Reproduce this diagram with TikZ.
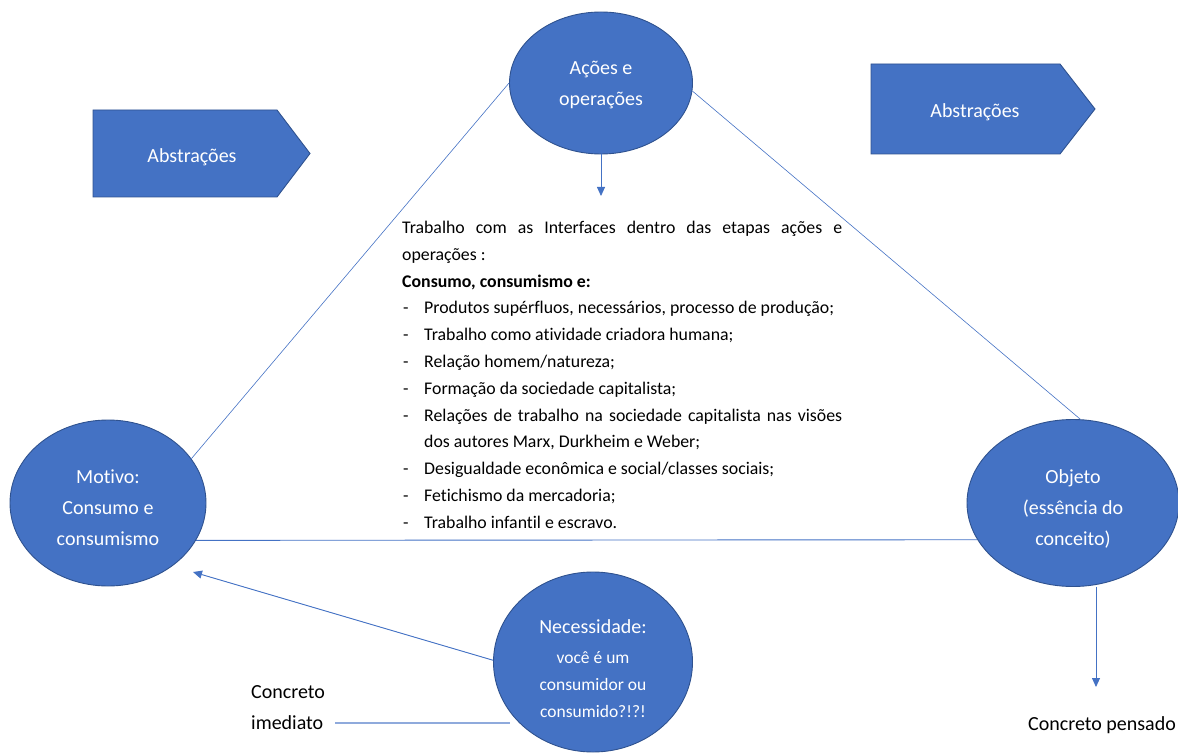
\documentclass[tikz,border=0pt]{standalone}
\usepackage{fontspec}
\setmainfont[Ligatures={NoCommon}]{Carlito}
\usetikzlibrary{shapes.geometric,arrows.meta,calc}
\definecolor{fillblue}{HTML}{4472C4}
\definecolor{edgeblue}{HTML}{2F528F}
\definecolor{lineblue}{HTML}{4472C4}
\definecolor{lightline}{HTML}{8FAADC}
\newcommand{\bitem}{\par\noindent\hangindent=22pt\hangafter=1\makebox[22pt][l]{\hspace{1pt}-}}
\begin{document}
\begin{tikzpicture}[x=1pt,y=-1pt,
  bubble/.style={ellipse, fill=fillblue, draw=edgeblue, line width=0.9pt, inner sep=0pt},
  bubbletext/.style={text=white, align=center, inner sep=0pt, font=\fontsize{20}{31}\selectfont},
  pentbox/.style={fill=fillblue, draw=edgeblue, line width=0.9pt},
  pentlabel/.style={text=white, inner sep=0pt, font=\fontsize{20}{24}\selectfont},
  thinline/.style={draw=lineblue, line width=0.6pt},
  conn/.style={draw=lineblue, line width=0.9pt},
  arrowline/.style={draw=lineblue, line width=0.9pt, -{Triangle[width=8pt,length=9pt]}, fill=lineblue},
  plainlabel/.style={inner sep=0pt, align=left, font=\fontsize{20}{31}\selectfont}]
\useasboundingbox (0,0) rectangle (1178,754);

% pentagon arrows "Abstrações"
\draw[pentbox] (93,110) -- (277,110) -- (310,153.5) -- (277,197) -- (93,197) -- cycle;
\node[pentlabel] (absL) at (192,157) {Abstrações};
\draw[pentbox] (871,64) -- (1060,64) -- (1095,109) -- (1060,154) -- (871,154) -- cycle;
\node[pentlabel] (absR) at (975,112) {Abstrações};

% ellipses
\node[bubble, minimum width=183pt, minimum height=142pt] (acoes) at (601,83) {};
\node[bubbletext] (acoesT) at (601,85) {Ações e\\operações};
\node[bubble, minimum width=196pt, minimum height=166pt] (motivo) at (108,503) {};
\node[bubbletext] (motivoT) at (108,508) {Motivo:\\Consumo e\\consumismo};
\node[bubble, minimum width=212pt, minimum height=167pt] (objeto) at (1073,503) {};
\node[bubbletext] (objetoT) at (1073,509) {Objeto\\(essência do\\conceito)};
\node[bubble, minimum width=199pt, minimum height=180pt] (necess) at (593,662) {};
\node[bubbletext, font=\fontsize{17.5}{27}\selectfont] (necessT) at (593,669)
  {{\fontsize{20}{27}\selectfont Necessidade:}\\[3pt]você é um\\consumidor ou\\consumido?!?!};

% central text block
\node[anchor=north west, inner sep=0pt, text width=440pt, align=justify,
      font=\fontsize{17.8}{26.8}\selectfont] (body) at (402,221) {%
\noindent Trabalho com as Interfaces dentro das etapas ações e\linebreak operações :\par
\noindent\textbf{Consumo, consumismo e:}%
\bitem Produtos supérfluos, necessários, processo de produção;%
\bitem Trabalho como atividade criadora humana;%
\bitem Relação homem/natureza;%
\bitem Formação da sociedade capitalista;%
\bitem Relações de trabalho na sociedade capitalista nas visões\linebreak dos autores Marx, Durkheim e Weber;%
\bitem Desigualdade econômica e social/classes sociais;%
\bitem Fetichismo da mercadoria;%
\bitem Trabalho infantil e escravo.\par};

% plain labels
\node[plainlabel, anchor=west] (cimed) at (251,708) {Concreto\\imediato};
\node[plainlabel] (cpens) at (1102,725) {Concreto pensado};

% coordinates
\coordinate (acoesTip) at (601,196);
\coordinate (motivoTip) at (193,572);
\coordinate (ciStart) at (335,723);
\coordinate (ciEnd) at (510,723);
\coordinate (objTip) at (1096,687);

% connectors
\draw[thinline] (acoes.west) -- (motivo.28);
\draw[thinline] (acoes.-5) -- (objeto.85);
\draw[conn] (motivo.-23) -- (objeto.-159);
\draw[arrowline] (acoes.south) -- (acoesTip);
\draw[arrowline] (necess.179) -- (motivoTip);
\draw[arrowline] (objTip |- objeto.south) -- (objTip);
\draw[draw=lightline, line width=1.3pt] (ciStart) -- (ciEnd);
\end{tikzpicture}
\end{document}
